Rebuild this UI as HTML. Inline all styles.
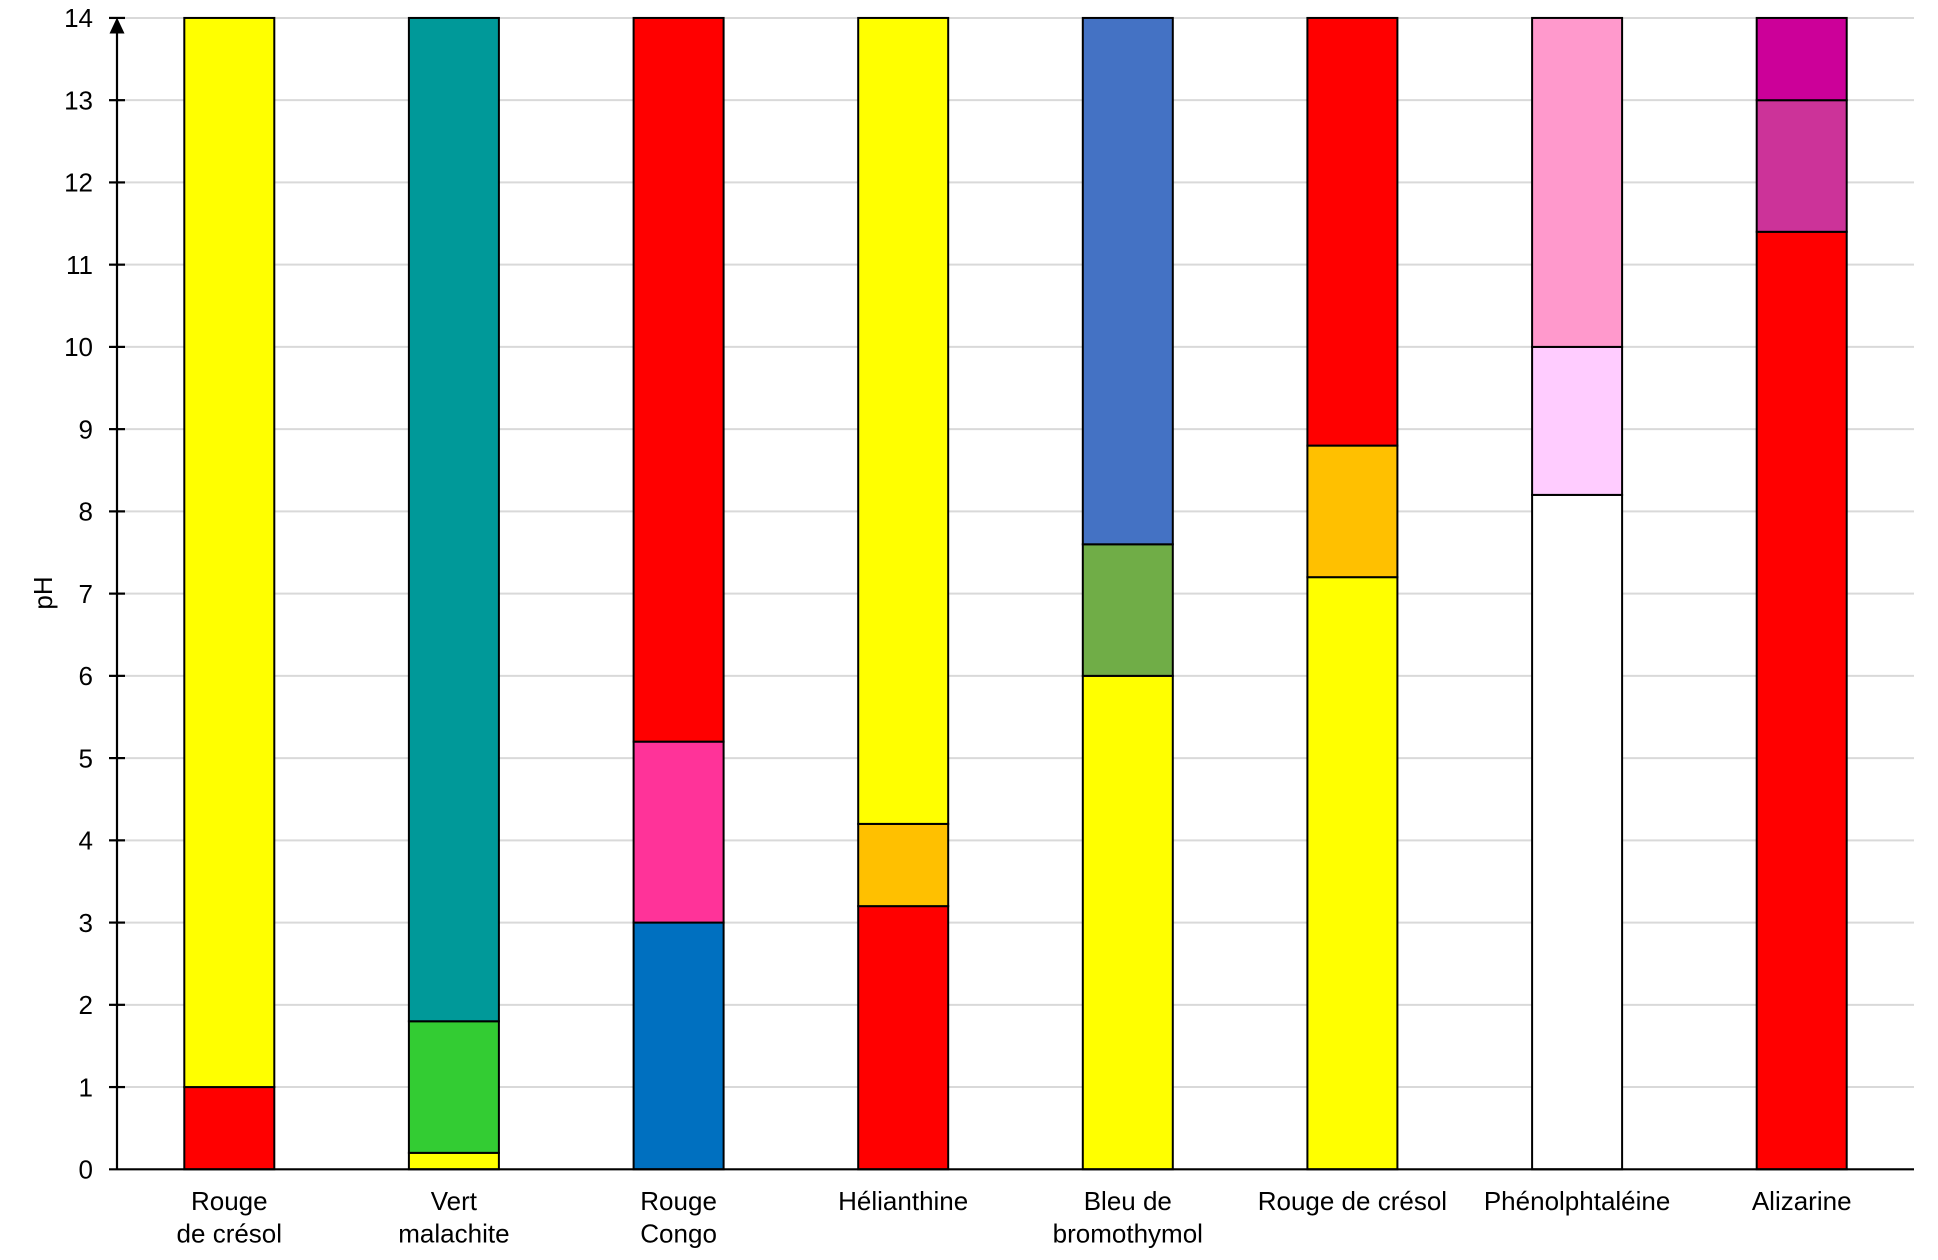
<!DOCTYPE html>
<html><head><meta charset="utf-8"><style>
html,body{margin:0;padding:0;background:#fff;}
svg{display:block;}
text{font-family:"Liberation Sans",Arial,sans-serif;fill:#000;}
</style></head><body>
<svg width="1938" height="1260" viewBox="0 0 1938 1260" xmlns="http://www.w3.org/2000/svg">
<rect x="0" y="0" width="1938" height="1260" fill="#fff"/>
<g stroke="#d9d9d9" stroke-width="2">
<line x1="117" x2="1914" y1="1087.06" y2="1087.06"/>
<line x1="117" x2="1914" y1="1004.82" y2="1004.82"/>
<line x1="117" x2="1914" y1="922.58" y2="922.58"/>
<line x1="117" x2="1914" y1="840.34" y2="840.34"/>
<line x1="117" x2="1914" y1="758.10" y2="758.10"/>
<line x1="117" x2="1914" y1="675.86" y2="675.86"/>
<line x1="117" x2="1914" y1="593.62" y2="593.62"/>
<line x1="117" x2="1914" y1="511.38" y2="511.38"/>
<line x1="117" x2="1914" y1="429.14" y2="429.14"/>
<line x1="117" x2="1914" y1="346.90" y2="346.90"/>
<line x1="117" x2="1914" y1="264.66" y2="264.66"/>
<line x1="117" x2="1914" y1="182.42" y2="182.42"/>
<line x1="117" x2="1914" y1="100.18" y2="100.18"/>
<line x1="117" x2="1914" y1="17.94" y2="17.94"/>
</g>
<g stroke="#000" stroke-width="2">
<rect x="184.3" y="1087.06" width="90" height="82.24" fill="#ff0000"/>
<rect x="184.3" y="17.94" width="90" height="1069.12" fill="#ffff00"/>
<rect x="408.9" y="1152.85" width="90" height="16.45" fill="#ffff00"/>
<rect x="408.9" y="1021.27" width="90" height="131.58" fill="#33cc33"/>
<rect x="408.9" y="17.94" width="90" height="1003.33" fill="#009999"/>
<rect x="633.6" y="922.58" width="90" height="246.72" fill="#0070c0"/>
<rect x="633.6" y="741.65" width="90" height="180.93" fill="#ff3399"/>
<rect x="633.6" y="17.94" width="90" height="723.71" fill="#ff0000"/>
<rect x="858.2" y="906.13" width="90" height="263.17" fill="#ff0000"/>
<rect x="858.2" y="823.9" width="90" height="82.23" fill="#ffc000"/>
<rect x="858.2" y="17.94" width="90" height="805.96" fill="#ffff00"/>
<rect x="1082.8" y="675.86" width="90" height="493.44" fill="#ffff00"/>
<rect x="1082.8" y="544.3" width="90" height="131.56" fill="#70ad47"/>
<rect x="1082.8" y="17.94" width="90" height="526.36" fill="#4472c4"/>
<rect x="1307.4" y="577.17" width="90" height="592.13" fill="#ffff00"/>
<rect x="1307.4" y="445.6" width="90" height="131.57" fill="#ffc000"/>
<rect x="1307.4" y="17.94" width="90" height="427.66" fill="#ff0000"/>
<rect x="1532.1" y="494.9" width="90" height="674.4" fill="#ffffff"/>
<rect x="1532.1" y="346.9" width="90" height="148" fill="#ffccff"/>
<rect x="1532.1" y="17.94" width="90" height="328.96" fill="#ff99cc"/>
<rect x="1756.7" y="231.8" width="90" height="937.5" fill="#ff0000"/>
<rect x="1756.7" y="100.2" width="90" height="131.6" fill="#cc3399"/>
<rect x="1756.7" y="17.94" width="90" height="82.26" fill="#cc0099"/>
</g>
<g stroke="#000" stroke-width="2.2">
<line x1="117" y1="22" x2="117" y2="1169.3"/>
<line x1="109" y1="1169.3" x2="1914" y2="1169.3"/>
<line x1="109" x2="125" y1="1087.06" y2="1087.06"/>
<line x1="109" x2="125" y1="1004.82" y2="1004.82"/>
<line x1="109" x2="125" y1="922.58" y2="922.58"/>
<line x1="109" x2="125" y1="840.34" y2="840.34"/>
<line x1="109" x2="125" y1="758.10" y2="758.10"/>
<line x1="109" x2="125" y1="675.86" y2="675.86"/>
<line x1="109" x2="125" y1="593.62" y2="593.62"/>
<line x1="109" x2="125" y1="511.38" y2="511.38"/>
<line x1="109" x2="125" y1="429.14" y2="429.14"/>
<line x1="109" x2="125" y1="346.90" y2="346.90"/>
<line x1="109" x2="125" y1="264.66" y2="264.66"/>
<line x1="109" x2="125" y1="182.42" y2="182.42"/>
<line x1="109" x2="125" y1="100.18" y2="100.18"/>
<line x1="109" x2="125" y1="17.94" y2="17.94"/>
</g>
<polygon points="117,17.5 109.5,33.5 124.5,33.5" fill="#000"/>
<g font-size="26" text-anchor="end">
<text x="93" y="1178.6">0</text>
<text x="93" y="1096.36">1</text>
<text x="93" y="1014.12">2</text>
<text x="93" y="931.88">3</text>
<text x="93" y="849.64">4</text>
<text x="93" y="767.40">5</text>
<text x="93" y="685.16">6</text>
<text x="93" y="602.92">7</text>
<text x="93" y="520.68">8</text>
<text x="93" y="438.44">9</text>
<text x="93" y="356.20">10</text>
<text x="93" y="273.96">11</text>
<text x="93" y="191.72">12</text>
<text x="93" y="109.48">13</text>
<text x="93" y="27.24">14</text>
</g>
<text x="0" y="0" font-size="26" text-anchor="middle" transform="translate(52,593) rotate(-90)">pH</text>
<g font-size="26" text-anchor="middle">
<text x="229.3" y="1210">Rouge</text>
<text x="229.3" y="1242.5">de crésol</text>
<text x="453.9" y="1210">Vert</text>
<text x="453.9" y="1242.5">malachite</text>
<text x="678.6" y="1210">Rouge</text>
<text x="678.6" y="1242.5">Congo</text>
<text x="903.2" y="1210">Hélianthine</text>
<text x="1127.8" y="1210">Bleu de</text>
<text x="1127.8" y="1242.5">bromothymol</text>
<text x="1352.4" y="1210">Rouge de crésol</text>
<text x="1577.1" y="1210">Phénolphtaléine</text>
<text x="1801.7" y="1210">Alizarine</text>
</g>
</svg>
</body></html>
